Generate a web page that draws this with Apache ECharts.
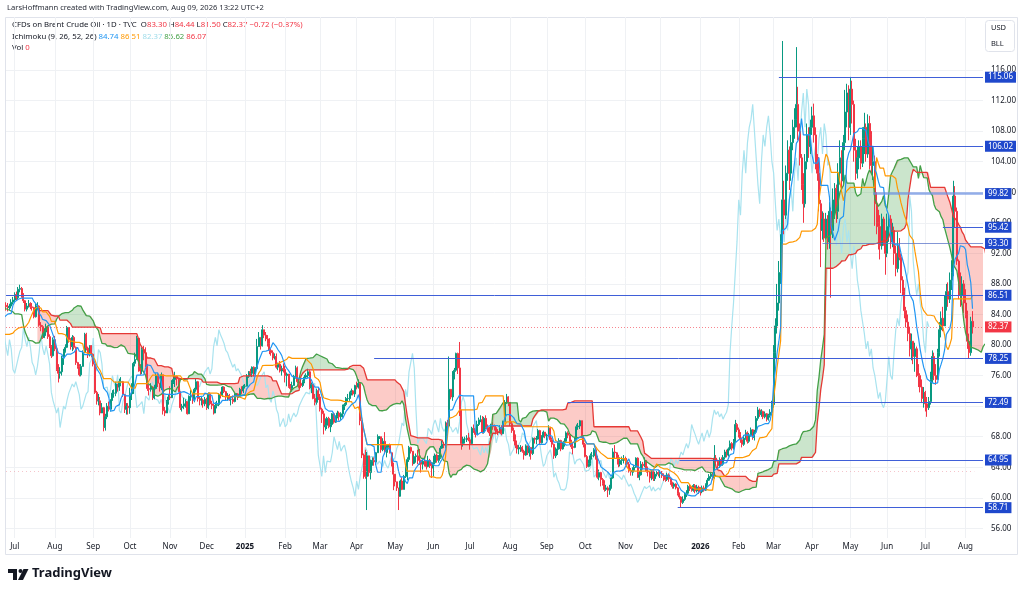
<!DOCTYPE html>
<html>
<head>
<meta charset="utf-8">
<title>Brent Crude Oil - Ichimoku</title>
<script src="https://cdn.jsdelivr.net/npm/echarts@6/dist/echarts.min.js"></script>
<style>
  html, body { margin: 0; padding: 0; background: #fff; }
  #myChart { width: 1024px; height: 594px; }
</style>
</head>
<body>
<div id="myChart"></div>
<script>
// daily bars, weekdays from 2024-04-03 (the first 58 only feed the indicator)
var firstDate = '2024-04-03';
var firstShown = '2024-06-24';

var closes = [
    // 2024 Apr / May / Jun (history)
    89.4, 90.7, 91.2, 90.4, 89.4, 90.5, 89.7, 90.5, 90.1, 90.0, 87.3, 87.1, 87.3, 87.0, 88.4, 88.0, 89.0, 89.5, 88.4, 87.9,
    83.4, 83.7, 83.0, 83.3, 83.2, 83.6, 83.9, 82.8, 83.4, 82.4, 82.8, 83.3, 84.0, 83.7, 82.9, 82.9, 81.4, 82.1, 83.1, 84.2, 83.6, 81.9, 81.6,
    78.4, 77.5, 78.4, 79.9, 79.6, 81.6, 81.9, 82.6, 82.8, 82.6, 84.3, 85.3, 85.1, 85.7, 85.2,
    // Jun 24-28
    85.0, 84.9, 85.1, 85.6, 85.9,
    // Jul 2024
    86.6, 86.2, 87.3, 87.4, 86.5, 85.8, 84.7, 85.1, 85.4, 85.0, 84.9, 83.7, 85.1, 85.1, 82.6, 82.4, 81.0, 81.7, 82.4, 81.1, 79.8, 78.6, 80.7,
    // Aug
    79.5, 76.8, 76.3, 76.5, 78.3, 79.2, 79.7, 82.3, 80.7, 79.8, 81.0, 79.7, 77.7, 77.2, 76.1, 77.2, 79.0, 81.4, 79.6, 78.7, 79.9, 78.8,
    // Sep
    77.5, 73.8, 72.7, 72.7, 71.1, 71.8, 69.2, 70.6, 72.0, 71.6, 72.8, 73.7, 73.7, 74.9, 74.5, 75.2, 75.2, 73.5, 71.6, 72.0, 71.8,
    // Oct
    73.6, 73.9, 77.6, 78.1, 80.9, 77.2, 76.6, 79.4, 79.0, 77.5, 74.3, 74.2, 74.5, 73.1, 74.3, 76.0, 75.0, 74.4, 76.1, 71.4, 71.1, 72.6, 73.2,
    // Nov
    73.1, 75.1, 75.5, 75.9, 75.6, 73.9, 71.8, 72.0, 72.3, 72.6, 71.0, 73.3, 73.3, 72.8, 74.2, 75.2, 73.0, 72.8, 72.8, 72.3, 72.9,
    // Dec
    71.8, 73.6, 72.3, 72.1, 71.1, 72.1, 72.2, 73.5, 73.4, 74.5, 73.9, 73.2, 73.4, 72.9, 72.9, 72.6, 73.6, 73.6, 73.3, 74.2, 74.0, 74.6,
    // Jan 2025
    74.6, 75.9, 76.5, 76.3, 77.1, 76.2, 76.9, 79.8, 81.0, 79.9, 82.0, 81.3, 80.8, 80.2, 79.3, 79.0, 78.3, 78.5, 77.1, 77.5, 76.6, 76.9, 76.8,
    // Feb
    76.0, 76.2, 74.6, 74.3, 74.7, 75.9, 77.0, 75.2, 75.0, 74.7, 75.2, 75.8, 76.0, 76.5, 74.4, 74.8, 73.0, 72.5, 74.0, 73.2,
    // Mar
    71.6, 71.0, 69.3, 69.5, 70.4, 69.3, 69.6, 71.0, 69.9, 70.6, 71.1, 70.6, 71.0, 72.0, 72.2, 73.0, 73.0, 73.8, 74.0, 73.6, 74.7,
    // Apr
    74.5, 75.0, 70.1, 65.6, 64.2, 62.8, 65.5, 63.3, 64.8, 64.9, 64.7, 65.9, 68.0, 68.0, 66.3, 67.4, 66.1, 66.6, 66.9, 65.9, 64.3, 63.1,
    // May
    62.1, 61.3, 60.2, 62.2, 61.1, 62.8, 63.9, 65.0, 66.6, 66.1, 64.5, 65.4, 65.5, 65.4, 64.9, 64.4, 64.8, 64.7, 64.1, 64.9, 64.2, 63.9,
    // Jun
    64.6, 65.6, 64.9, 65.3, 66.5, 67.0, 66.9, 69.8, 69.4, 74.2, 73.2, 76.5, 76.7, 78.9, 77.0, 71.5, 67.1, 67.7, 67.7, 67.8, 67.6,
    // Jul
    67.1, 69.1, 68.8, 68.3, 69.6, 70.2, 70.2, 68.6, 70.4, 69.2, 68.7, 68.5, 69.5, 69.3, 69.2, 68.6, 68.5, 69.2, 68.4, 70.0, 72.5, 73.2, 72.5,
    // Aug
    69.7, 68.8, 67.6, 66.9, 66.4, 66.6, 66.6, 66.1, 65.6, 66.8, 65.9, 66.6, 65.8, 67.8, 67.7, 67.7, 68.8, 67.2, 68.1, 68.6, 68.1,
    // Sep
    68.2, 69.1, 67.6, 67.0, 65.5, 66.0, 66.4, 67.5, 66.4, 67.0, 67.4, 68.5, 68.2, 67.4, 66.7, 66.6, 67.6, 69.3, 69.4, 70.1, 68.0, 67.0,
    // Oct
    65.4, 64.1, 64.5, 65.5, 65.5, 66.3, 65.2, 62.7, 63.3, 62.4, 61.9, 61.1, 61.3, 61.0, 61.3, 62.6, 66.0, 65.9, 65.6, 64.4, 64.9, 65.0, 65.1,
    // Nov
    64.9, 64.4, 63.5, 63.4, 63.6, 64.0, 65.2, 62.7, 63.0, 64.4, 64.2, 64.9, 63.5, 63.4, 62.6, 63.4, 62.5, 63.1, 63.3, 63.2,
    // Dec
    63.2, 62.9, 62.7, 62.4, 63.0, 62.5, 62.0, 61.5, 61.8, 61.3, 60.6, 60.1, 59.4, 59.8, 60.4, 60.6, 61.5, 61.2, 61.0, 61.6, 60.9, 61.4, 60.9,
    // Jan 2026
    60.8, 61.3, 61.0, 61.7, 62.3, 62.8, 63.1, 62.6, 65.2, 64.8, 64.2, 65.0, 64.4, 65.3, 66.0, 65.6, 66.4, 67.1, 66.5, 67.4, 69.6, 68.9,
    // Feb
    68.3, 67.6, 67.0, 67.8, 68.5, 67.4, 68.2, 68.9, 67.9, 68.6, 70.4, 71.5, 70.9, 71.3, 70.6, 71.0, 70.3, 70.8, 71.2, 72.2,
    // Mar
    79.0, 82.5, 85.5, 89.5, 93.5, 99.0, 97.0, 102.5, 105.5, 102.5, 106.5, 108.5, 109.5, 111.5, 108.0, 104.5, 101.0, 98.5, 104.0, 107.5, 106.0, 108.5,
    // Apr
    110.0, 107.5, 104.0, 102.5, 98.5, 95.0, 96.5, 94.0, 96.5, 93.5, 97.5, 95.0, 99.0, 100.5, 97.5, 102.5, 104.5, 101.5, 106.5, 110.5, 113.0, 108.5,
    // May
    113.5, 111.5, 105.5, 102.5, 104.5, 106.0, 103.8, 107.0, 108.5, 105.0, 109.0, 107.5, 103.5, 104.0, 98.5, 96.0, 95.5, 93.0, 96.5, 94.0, 92.0,
    // Jun
    95.5, 96.5, 93.5, 95.0, 92.0, 90.0, 93.0, 91.5, 88.5, 87.0, 84.5, 83.0, 81.5, 79.5, 80.5, 78.5, 79.5, 77.0, 76.0, 74.5, 73.0, 73.8,
    // Jul
    72.3, 71.8, 72.6, 75.5, 78.5, 76.0, 75.5, 79.0, 82.0, 83.5, 82.5, 85.5, 87.0, 86.0, 88.5, 89.5, 99.5, 97.5, 91.0, 88.5, 86.5, 88.0, 85.5,
    // Aug
    84.0, 80.5, 79.0, 83.1, 82.37
];

var highs = [
    89.9, 91.0, 91.4, 91.0, 90.8, 90.9, 90.6, 92.2, 91.0, 90.7, 90.2, 87.8, 90.8, 87.6, 88.6, 88.5, 89.3, 89.7, 89.3, 88.8,
    86.1, 84.2, 84.0, 83.9, 83.6, 83.8, 84.2, 84.4, 83.6, 83.5, 83.0, 83.6, 84.1, 84.4, 83.8, 83.3, 82.0, 82.3, 83.3, 84.4, 84.2, 83.9, 82.0,
    81.7, 78.6, 78.7, 79.9, 80.2, 81.7, 82.3, 83.0, 83.2, 82.9, 84.4, 85.5, 85.4, 86.0, 85.9,
    85.6, 85.5, 85.4, 86.0, 86.3,
    86.9, 87.0, 87.6, 87.9, 87.6, 86.8, 85.9, 85.5, 85.9, 85.6, 85.5, 85.0, 85.4, 85.6, 85.2, 83.0, 82.6, 82.2, 82.8, 82.5, 81.4, 80.0, 81.0,
    81.2, 79.8, 77.5, 77.1, 78.6, 79.5, 80.1, 82.5, 82.0, 80.9, 81.3, 81.2, 79.8, 77.8, 77.5, 77.5, 79.3, 81.6, 81.6, 79.8, 80.0, 80.0,
    78.9, 77.4, 74.0, 73.6, 73.2, 72.4, 71.9, 71.0, 72.4, 72.6, 72.9, 74.1, 74.2, 75.2, 74.9, 75.6, 75.8, 75.3, 73.6, 72.4, 72.4,
    74.4, 75.0, 77.8, 79.0, 81.2, 80.6, 77.5, 79.7, 79.9, 79.7, 77.5, 74.8, 75.0, 74.6, 74.8, 76.3, 76.3, 75.0, 76.4, 73.2, 71.9, 72.8, 73.6,
    74.6, 75.4, 76.0, 76.5, 76.0, 75.7, 73.8, 72.3, 73.1, 72.9, 72.4, 73.4, 74.1, 73.6, 74.4, 75.6, 75.3, 73.3, 73.3, 73.0, 73.2,
    73.1, 73.8, 73.8, 72.7, 72.3, 72.5, 72.7, 73.7, 73.9, 74.6, 74.6, 74.0, 73.7, 73.6, 73.3, 73.4, 73.7, 73.7, 73.7, 74.4, 74.6, 74.8,
    74.9, 76.2, 76.6, 76.9, 77.2, 77.2, 77.1, 80.8, 81.7, 81.0, 82.6, 82.0, 81.7, 81.3, 80.9, 79.5, 79.3, 78.9, 78.9, 77.7, 77.9, 77.3, 77.6,
    77.3, 76.4, 76.1, 74.9, 75.2, 76.1, 77.3, 77.2, 75.7, 75.3, 75.4, 76.1, 76.3, 76.9, 76.7, 75.1, 74.9, 73.6, 74.3, 74.4,
    73.6, 71.8, 71.4, 70.4, 70.6, 70.6, 70.3, 71.1, 70.9, 70.8, 71.4, 71.3, 71.2, 72.2, 72.4, 73.2, 73.6, 73.9, 74.3, 74.1, 74.8,
    75.2, 75.5, 74.9, 70.1, 65.8, 66.3, 66.0, 65.2, 65.0, 65.3, 65.3, 66.0, 68.3, 68.1, 67.6, 67.8, 68.6, 66.9, 67.0, 67.1, 65.9, 64.6,
    63.1, 62.1, 60.9, 62.4, 62.7, 63.0, 64.3, 65.3, 66.8, 66.7, 65.9, 65.6, 65.8, 66.3, 66.4, 65.0, 65.0, 65.4, 64.9, 65.5, 65.1, 64.7,
    65.5, 65.8, 65.8, 65.6, 66.8, 67.5, 67.3, 70.0, 70.2, 78.5, 74.0, 76.6, 77.0, 79.0, 79.0, 80.4, 71.5, 68.0, 68.0, 68.2, 68.5,
    67.9, 69.3, 69.6, 68.9, 70.1, 70.5, 70.8, 70.7, 70.6, 70.8, 69.6, 69.3, 69.7, 69.9, 69.6, 69.5, 69.0, 69.5, 69.5, 70.1, 72.8, 73.6, 73.3,
    72.4, 70.0, 69.2, 68.3, 67.5, 66.9, 66.9, 66.8, 66.3, 67.0, 66.8, 66.8, 66.6, 67.9, 67.9, 68.1, 69.0, 68.9, 68.2, 68.8, 68.6,
    68.4, 69.5, 69.3, 67.9, 67.1, 66.6, 67.3, 67.8, 67.6, 67.2, 67.8, 68.7, 68.7, 68.3, 67.6, 67.2, 67.9, 69.6, 69.8, 70.2, 69.9, 68.0,
    67.2, 65.6, 65.0, 65.8, 66.0, 66.5, 66.6, 65.5, 63.7, 63.4, 62.6, 62.3, 61.7, 61.5, 61.7, 62.7, 66.5, 66.9, 66.0, 65.6, 65.3, 65.4, 65.6,
    65.4, 65.2, 64.7, 63.9, 64.0, 64.3, 65.3, 65.3, 63.5, 64.8, 64.7, 65.3, 64.9, 64.1, 63.5, 63.6, 63.6, 63.4, 63.5, 63.6,
    63.6, 63.5, 63.2, 63.0, 63.3, 63.2, 62.6, 62.1, 62.0, 61.9, 61.4, 60.7, 60.2, 60.2, 60.7, 61.0, 61.7, 61.8, 61.5, 61.8, 61.8, 61.7, 61.6,
    61.4, 61.6, 61.6, 61.9, 62.6, 63.1, 63.3, 63.3, 66.9, 65.6, 65.0, 65.3, 65.3, 65.6, 66.3, 66.3, 66.6, 67.5, 67.3, 67.7, 70.2, 69.8,
    69.2, 68.6, 67.9, 68.2, 68.9, 68.7, 68.5, 69.2, 69.0, 68.9, 70.7, 71.9, 71.7, 71.6, 71.4, 71.3, 71.1, 71.0, 71.6, 72.7,
    80.0, 83.5, 88.0, 91.0, 94.5, 119.8, 101.5, 103.5, 106.8, 106.0, 107.5, 109.5, 111.0, 119.0, 113.8, 109.0, 105.0, 102.5, 105.0, 109.0, 108.5, 109.5,
    111.2, 111.6, 108.5, 105.0, 104.6, 99.0, 97.5, 97.3, 97.3, 97.0, 98.7, 98.0, 100.5, 101.2, 101.0, 103.8, 106.8, 105.5, 107.5, 113.4, 114.2, 114.0,
    115.1, 114.6, 112.0, 107.0, 106.0, 106.8, 106.8, 108.5, 110.4, 109.0, 110.2, 110.0, 108.0, 106.0, 104.8, 100.0, 97.7, 97.0, 97.2, 96.8, 95.0,
    97.2, 97.0, 97.0, 96.0, 95.5, 93.0, 94.8, 94.0, 92.0, 89.0, 87.5, 85.0, 84.0, 82.4, 81.5, 80.3, 80.3, 79.8, 77.5, 76.3, 75.5, 74.5,
    74.0, 73.2, 73.2, 76.5, 79.3, 79.0, 77.5, 79.5, 83.0, 84.4, 85.0, 86.5, 88.0, 88.2, 89.5, 91.1, 101.5, 100.8, 98.0, 91.2, 89.5, 89.0, 88.5,
    87.3, 84.5, 81.5, 83.7, 84.44
];

var lows = [
    88.3, 89.3, 90.3, 90.0, 89.0, 89.0, 89.3, 89.5, 89.3, 89.5, 87.0, 86.1, 86.5, 86.5, 86.8, 87.6, 87.5, 88.6, 88.1, 87.6,
    83.0, 83.2, 82.8, 82.8, 82.5, 82.8, 83.2, 82.7, 82.6, 82.2, 81.8, 82.7, 83.0, 83.4, 82.5, 81.5, 81.1, 81.2, 82.1, 83.1, 83.2, 81.6, 80.9,
    78.2, 76.8, 77.4, 78.0, 79.2, 79.4, 81.3, 81.5, 82.1, 82.2, 82.3, 84.1, 84.7, 84.9, 85.0,
    84.5, 84.4, 84.6, 84.8, 85.3,
    85.6, 85.9, 86.0, 86.9, 86.2, 85.5, 84.4, 84.4, 84.9, 84.7, 84.5, 83.5, 83.6, 84.6, 82.4, 81.8, 80.8, 80.9, 81.2, 80.8, 79.6, 78.3, 78.5,
    79.2, 76.6, 75.1, 75.6, 76.0, 77.4, 79.0, 79.6, 80.3, 79.4, 79.2, 79.4, 77.4, 76.9, 75.9, 75.9, 77.2, 79.3, 79.3, 78.3, 78.5, 78.4,
    77.2, 73.6, 72.2, 72.1, 70.8, 71.1, 68.7, 68.8, 70.3, 71.3, 71.3, 72.7, 73.1, 73.3, 73.9, 74.0, 74.6, 73.2, 71.1, 70.9, 70.9,
    71.0, 72.8, 73.6, 77.2, 78.1, 76.5, 76.1, 76.2, 78.0, 77.1, 74.0, 73.4, 73.9, 72.8, 72.9, 74.2, 74.5, 73.9, 74.1, 70.9, 70.7, 71.2, 72.2,
    72.8, 73.1, 74.9, 74.5, 74.7, 73.8, 71.5, 71.3, 71.6, 71.8, 70.9, 71.0, 72.7, 72.3, 72.5, 73.9, 72.6, 72.1, 72.1, 71.8, 72.0,
    71.5, 71.6, 72.1, 71.6, 70.9, 71.1, 71.7, 72.0, 73.0, 73.2, 73.7, 72.8, 72.7, 72.7, 72.1, 72.3, 72.5, 73.3, 72.8, 73.2, 73.6, 73.7,
    74.3, 74.7, 75.7, 75.9, 75.8, 75.9, 76.1, 77.0, 79.8, 79.4, 79.8, 80.9, 80.5, 79.8, 78.8, 78.6, 78.0, 78.1, 76.9, 76.7, 76.4, 76.0, 76.4,
    75.1, 74.6, 74.4, 74.0, 73.9, 74.8, 75.6, 75.0, 74.4, 74.4, 74.5, 75.0, 75.6, 75.7, 74.2, 73.7, 72.9, 72.1, 72.2, 72.8,
    71.3, 69.8, 68.3, 68.8, 69.0, 69.1, 68.6, 69.5, 69.7, 69.8, 70.4, 70.1, 70.2, 70.5, 71.5, 72.0, 72.6, 72.7, 73.4, 73.4, 73.2,
    74.2, 74.3, 69.5, 65.2, 62.5, 62.5, 58.4, 62.8, 62.4, 64.2, 64.2, 64.3, 65.9, 67.7, 65.9, 66.1, 65.7, 65.3, 65.9, 65.8, 64.1, 61.0,
    61.5, 60.9, 58.4, 60.2, 61.0, 61.1, 62.6, 62.3, 64.7, 65.8, 64.2, 64.4, 64.6, 64.4, 64.3, 63.3, 63.7, 64.1, 63.7, 64.0, 63.9, 62.6,
    62.8, 64.4, 64.6, 64.6, 65.1, 66.4, 66.5, 66.5, 68.9, 69.8, 72.9, 72.7, 75.5, 76.5, 76.2, 70.7, 66.3, 66.7, 67.1, 67.3, 67.4,
    66.3, 67.0, 68.5, 67.9, 68.3, 69.4, 69.9, 68.4, 68.4, 69.0, 68.6, 68.1, 68.4, 68.9, 68.8, 68.3, 68.2, 68.6, 68.2, 68.4, 70.0, 72.3, 72.0,
    69.4, 68.5, 67.4, 66.5, 65.8, 65.7, 66.0, 65.9, 65.0, 65.5, 65.6, 65.4, 65.0, 65.6, 67.1, 67.0, 67.6, 67.0, 67.1, 67.9, 67.8,
    67.5, 68.0, 67.3, 66.6, 65.1, 65.2, 65.6, 66.3, 66.1, 66.3, 66.7, 67.3, 67.8, 67.0, 66.4, 65.7, 66.5, 67.5, 68.9, 69.0, 67.8, 66.6,
    65.3, 63.9, 64.0, 64.2, 65.0, 65.3, 65.0, 62.5, 62.3, 61.5, 61.6, 60.8, 60.9, 60.1, 60.4, 61.2, 62.5, 65.2, 65.2, 64.0, 64.1, 64.3, 64.5,
    64.3, 64.0, 63.3, 62.9, 62.9, 63.3, 63.9, 62.6, 62.3, 62.9, 63.7, 64.0, 63.3, 62.8, 62.0, 62.3, 62.2, 62.2, 62.8, 62.8,
    62.6, 62.6, 62.2, 62.1, 62.2, 62.1, 61.7, 61.2, 61.2, 61.1, 60.3, 59.8, 58.7, 59.2, 59.6, 60.1, 60.4, 60.9, 60.8, 60.8, 60.6, 60.7, 60.5,
    60.3, 60.6, 60.8, 60.9, 61.6, 62.2, 62.5, 62.3, 62.5, 64.5, 63.8, 63.9, 64.2, 64.2, 65.0, 65.3, 65.4, 66.2, 66.2, 66.3, 67.3, 68.6,
    67.9, 67.2, 66.6, 66.8, 67.6, 67.1, 67.2, 68.0, 67.6, 67.5, 68.4, 70.1, 70.6, 70.6, 70.3, 70.4, 70.0, 70.1, 70.5, 70.8,
    71.8, 78.3, 81.5, 84.5, 88.0, 93.0, 94.5, 96.5, 101.5, 100.3, 101.5, 105.5, 107.0, 108.5, 106.8, 103.5, 100.3, 96.0, 98.0, 103.0, 104.5, 105.0,
    107.5, 106.5, 103.0, 101.5, 97.5, 90.2, 93.8, 93.5, 93.8, 92.5, 92.6, 86.2, 94.0, 96.5, 96.0, 96.5, 101.0, 100.3, 100.8, 105.5, 108.5, 106.8,
    107.5, 109.0, 104.0, 101.6, 101.8, 103.0, 103.0, 103.3, 105.0, 104.0, 104.5, 103.0, 102.5, 101.6, 95.6, 94.5, 92.5, 91.2, 92.5, 93.0, 89.2,
    91.5, 93.5, 92.6, 92.8, 90.5, 89.0, 89.5, 91.1, 86.8, 86.5, 83.5, 82.3, 80.5, 78.5, 78.0, 77.5, 76.5, 75.8, 74.5, 73.8, 72.4, 71.8,
    71.3, 70.6, 71.5, 72.2, 75.0, 75.4, 74.8, 75.5, 78.5, 81.0, 81.8, 82.5, 84.5, 85.0, 85.5, 87.2, 89.0, 95.4, 90.5, 86.0, 85.0, 85.2, 84.2,
    83.5, 79.5, 78.3, 78.6, 81.5
];

// drawn price levels and the day each ray starts
var levels = [115.06, 106.02, 99.82, 95.42, 93.30, 86.51, 78.25, 72.49, 64.95, 58.71];
var levelFrom = ['2026-03-05', '2026-04-09', '2026-05-20', '2026-07-15', '2026-04-09',
                 '2024-06-24', '2025-04-15', '2025-09-17', '2025-12-16', '2025-12-15'];
var lastPrice = 82.37;
var dottedLevel = 63.42;
var priceTicks = [56, 60, 64, 68, 72, 76, 80, 84, 88, 92, 96, 100, 104, 108, 112, 116];
var monthNames = ['Jan', 'Feb', 'Mar', 'Apr', 'May', 'Jun', 'Jul', 'Aug', 'Sep', 'Oct', 'Nov', 'Dec'];

var SHIFT = 25;          // TradingView plots the spans with displacement - 1
var VISIBLE = 560;       // bar slots across the pane

var FONT = 'Noto Sans';

function weekdays(start, n) {
    var d = new Date(start + 'T00:00:00Z');
    var out = [];
    while (out.length < n) {
        var w = d.getUTCDay();
        if (w > 0 && w < 6) out.push(d.toISOString().slice(0, 10));
        d.setUTCDate(d.getUTCDate() + 1);
    }
    return out;
}

var n = closes.length;
var total = n + SHIFT + 1;
var dates = weekdays(firstDate, total);
var startIdx = dates.indexOf(firstShown);
var endIdx = startIdx + VISIBLE;

// candles: open = previous close
var candles = [], H = [], L = [];
for (var i = 0; i < n; i++) {
    var o = i ? closes[i - 1] : closes[i];
    var c = closes[i];
    var h = Math.max(highs[i], o, c);
    var l = Math.min(lows[i], o, c);
    H.push(h); L.push(l);
    candles.push([o, c, l, h]);
}

function midpoint(len, i) {
    if (i < len - 1) return null;
    var hh = -Infinity, ll = Infinity;
    for (var k = i - len + 1; k <= i; k++) {
        if (H[k] > hh) hh = H[k];
        if (L[k] < ll) ll = L[k];
    }
    return (hh + ll) / 2;
}

function blank(len) {
    var a = [];
    for (var i = 0; i < len; i++) a.push('-');
    return a;
}

var tenkan = blank(total), kijun = blank(total), chikou = blank(total);
var spanA = blank(total), spanB = blank(total);
for (var i = 0; i < n; i++) {
    var t = midpoint(9, i), k = midpoint(26, i), b = midpoint(52, i);
    if (t !== null) tenkan[i] = t;
    if (k !== null) kijun[i] = k;
    if (t !== null && k !== null) spanA[i + SHIFT] = (t + k) / 2;
    if (b !== null) spanB[i + SHIFT] = b;
    if (i >= SHIFT) chikou[i - SHIFT] = closes[i];
}

// cloud as stacked bands over the lower span
var cloudBase = blank(total), cloudUp = blank(total), cloudDown = blank(total);
for (var i = 0; i < total; i++) {
    if (spanA[i] !== '-' && spanB[i] !== '-') {
        cloudBase[i] = Math.min(spanA[i], spanB[i]);
        cloudUp[i] = spanA[i] >= spanB[i] ? spanA[i] - spanB[i] : 0;
        cloudDown[i] = spanB[i] > spanA[i] ? spanB[i] - spanA[i] : 0;
    }
}

function isMonthStart(index) {
    if (index <= startIdx) return false;
    return dates[index].slice(0, 7) !== dates[index - 1].slice(0, 7);
}

var levelLines = [];
for (var j = 0; j < levels.length; j++) {
    var ls = {color: '#3f5fd8', width: 1, type: 'solid'};
    if (levels[j] === 99.82) ls = {color: 'rgba(110,145,225,0.75)', width: 2.5, type: 'solid'};
    if (levels[j] === 93.30) ls = {color: 'rgba(90,115,200,0.75)', width: 1, type: 'solid'};
    levelLines.push([
        {coord: [dates.indexOf(levelFrom[j]), levels[j]], lineStyle: ls,
         label: {show: true, position: 'end', formatter: levels[j].toFixed(2), color: '#fff',
                 backgroundColor: '#1f48cc', padding: [2, 3, 1, 3], fontSize: 8, fontFamily: FONT, distance: 2}},
        {coord: [endIdx, levels[j]]}
    ]);
}
levelLines.push([
    {coord: [startIdx, lastPrice], lineStyle: {color: 'rgba(242,54,69,0.6)', width: 1, type: [1, 2]},
     label: {show: true, position: 'end', formatter: lastPrice.toFixed(2), color: '#fff',
             backgroundColor: '#f23645', padding: [2, 3, 1, 3], fontSize: 8, fontFamily: FONT, distance: 2}},
    {coord: [endIdx, lastPrice]}
]);
levelLines.push([
    {coord: [startIdx, dottedLevel], lineStyle: {color: 'rgba(236,150,160,0.55)', width: 1, type: [1, 3]},
     label: {show: false}},
    {coord: [endIdx - 5, dottedLevel]}
]);

var myChart = echarts.init(document.getElementById('myChart'));

var lineBase = {type: 'line', symbol: 'none', silent: true, connectNulls: false, animation: false};

option = {
    animation: false,
    backgroundColor: '#ffffff',
    textStyle: {fontFamily: FONT},
    grid: {left: 6, right: 41, top: 17, bottom: 56, containLabel: false},
    xAxis: {
        type: 'category',
        data: dates,
        min: startIdx,
        max: endIdx,
        boundaryGap: false,
        axisLine: {show: false},
        axisTick: {show: false},
        splitLine: {show: true, interval: function (idx) { return isMonthStart(idx); },
                    lineStyle: {color: '#eff1f4', width: 1}},
        axisLabel: {
            interval: function (idx) { return isMonthStart(idx); },
            margin: 5,
            fontSize: 8,
            fontFamily: FONT,
            color: '#131722',
            formatter: function (v) {
                var m = +v.slice(5, 7) - 1;
                return m === 0 ? '{y|' + v.slice(0, 4) + '}' : monthNames[m];
            },
            rich: {y: {fontSize: 8, fontWeight: 'bold', color: '#131722', fontFamily: FONT}}
        }
    },
    yAxis: {
        type: 'value',
        position: 'right',
        min: 54.74,
        max: 122.94,
        scale: true,
        axisLine: {show: false},
        axisTick: {show: false, customValues: priceTicks},
        splitLine: {show: true, lineStyle: {color: '#eff1f4', width: 1}},
        axisLabel: {
            customValues: priceTicks,
            margin: 8,
            fontSize: 8,
            fontFamily: FONT,
            color: '#131722',
            formatter: function (v) { return v.toFixed(2); }
        }
    },
    series: [
        Object.assign({}, lineBase, {name: 'cloudBase', data: cloudBase, stack: 'cloud', z: 1,
            lineStyle: {width: 0, opacity: 0}}),
        Object.assign({}, lineBase, {name: 'cloudUp', data: cloudUp, stack: 'cloud', z: 1,
            lineStyle: {width: 0, opacity: 0}, areaStyle: {color: 'rgba(67,160,71,0.28)', opacity: 1}}),
        Object.assign({}, lineBase, {name: 'cloudDown', data: cloudDown, stack: 'cloud', z: 1,
            lineStyle: {width: 0, opacity: 0}, areaStyle: {color: 'rgba(244,67,54,0.28)', opacity: 1}}),
        Object.assign({}, lineBase, {name: 'Lagging', data: chikou, z: 2,
            lineStyle: {color: '#a9e3ef', width: 1.2}}),
        {
            name: 'Brent', type: 'candlestick', data: candles, z: 3, large: false,
            barWidth: 1.5,
            itemStyle: {color: '#089981', color0: '#f23645', borderColor: '#089981', borderColor0: '#f23645', borderWidth: 1}
        },
        Object.assign({}, lineBase, {name: 'Lead A', data: spanA, z: 4,
            lineStyle: {color: '#43a047', width: 1.3}}),
        Object.assign({}, lineBase, {name: 'Lead B', data: spanB, z: 4,
            lineStyle: {color: '#e53935', width: 1.3}}),
        Object.assign({}, lineBase, {name: 'Base', data: kijun, z: 4,
            lineStyle: {color: '#ff9800', width: 1.2}}),
        Object.assign({}, lineBase, {name: 'Conversion', data: tenkan, z: 4,
            lineStyle: {color: '#2196f3', width: 1.2}}),
        Object.assign({}, lineBase, {name: 'levels', data: blank(total), z: 6,
            markLine: {silent: true, symbol: 'none', animation: false, data: levelLines}})
    ],
    graphic: [
        {type: 'rect', silent: true, z: -10, shape: {x: 5.5, y: 17.5, width: 1012, height: 537},
         style: {fill: 'none', stroke: '#e0e3eb', lineWidth: 1}},
        {type: 'text', left: 7, top: 4, silent: true,
         style: {text: 'LarsHoffmann created with TradingView.com, Aug 09, 2026 13:22 UTC+2',
                 fontSize: 7.6, fontFamily: FONT, fill: '#2a2e39'}},
        {type: 'text', left: 12, top: 21, silent: true,
         style: {text: 'CFDs on Brent Crude Oil · 1D · TVC  O{r|83.30} H{r|84.44} L{r|81.50} C{r|82.37} {r|−0.72 (−0.87%)}',
                 fontSize: 7.8, fontFamily: FONT, fill: '#131722',
                 rich: {r: {fill: '#f23645', fontSize: 7.8, fontFamily: FONT}}}},
        {type: 'text', left: 12, top: 33, silent: true,
         style: {text: 'Ichimoku (9, 26, 52, 26) {b|84.74} {o|86.51} {c|82.37} {g|85.62} {d|86.07}',
                 fontSize: 7.8, fontFamily: FONT, fill: '#131722',
                 rich: {
                     b: {fill: '#2196f3', fontSize: 7.8, fontFamily: FONT},
                     o: {fill: '#ff9800', fontSize: 7.8, fontFamily: FONT},
                     c: {fill: '#9fdcea', fontSize: 7.8, fontFamily: FONT},
                     g: {fill: '#43a047', fontSize: 7.8, fontFamily: FONT},
                     d: {fill: '#f23645', fontSize: 7.8, fontFamily: FONT}
                 }}},
        {type: 'text', left: 12, top: 44, silent: true,
         style: {text: 'Vol {r|0}', fontSize: 7.8, fontFamily: FONT, fill: '#131722',
                 rich: {r: {fill: '#f23645', fontSize: 7.8, fontFamily: FONT}}}},
        {type: 'rect', silent: true, shape: {x: 985.5, y: 20.5, width: 29, height: 31, r: 3},
         style: {fill: '#fff', stroke: '#e0e3eb', lineWidth: 1}},
        {type: 'text', left: 991, top: 24, silent: true,
         style: {text: 'USD', fontSize: 7.5, fontFamily: FONT, fill: '#131722'}},
        {type: 'text', left: 991, top: 40, silent: true,
         style: {text: 'BLL', fontSize: 7.5, fontFamily: FONT, fill: '#131722'}},
        {type: 'polygon', silent: true,
         shape: {points: [[8, 569], [17, 569], [17, 580], [13, 580], [13, 573], [8, 573]]},
         style: {fill: '#131722'}},
        {type: 'circle', silent: true, shape: {cx: 20.5, cy: 571, r: 2}, style: {fill: '#131722'}},
        {type: 'polygon', silent: true,
         shape: {points: [[23.5, 569], [28.5, 569], [23, 580], [18, 580]]},
         style: {fill: '#131722'}},
        {type: 'text', left: 32, top: 567, silent: true,
         style: {text: 'TradingView', fontSize: 13, fontWeight: 'bold', fontFamily: FONT, fill: '#131722'}}
    ]
};

myChart.setOption(option);
</script>
</body>
</html>
